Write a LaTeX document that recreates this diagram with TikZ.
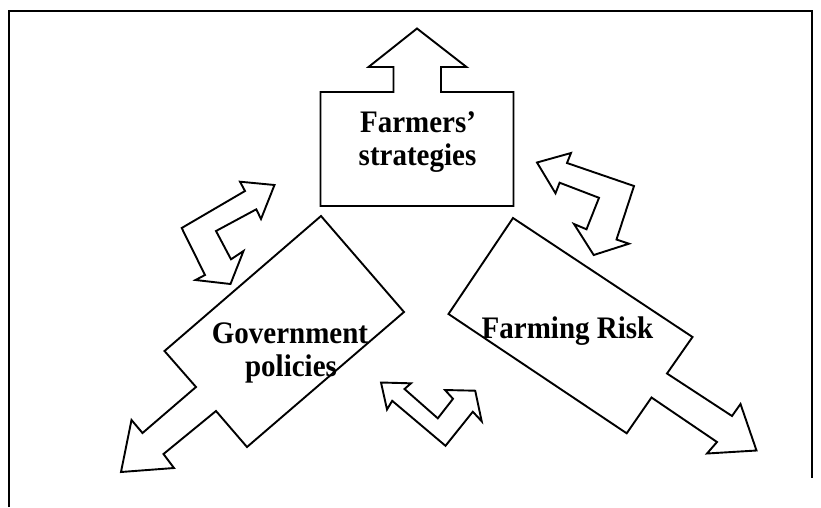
\documentclass[tikz,border=0pt]{standalone}
\usepackage{fontspec}
\usepackage{graphicx}
\setmainfont{Liberation Serif}
% labels are set slightly taller than wide
\newcommand\tallword[1]{\scalebox{1}[1.08]{#1}}
\begin{document}
\begin{tikzpicture}[x=1pt,y=-1pt,
  shape line/.style={draw=black,line width=1.9pt,line join=miter},
  frame line/.style={draw=black,line width=2pt},
  lbl/.style={anchor=base,inner sep=0pt,font=\fontsize{29}{33}\selectfont\bfseries}]
\useasboundingbox (0,0) rectangle (821,507);

% outer frame (open at the bottom)
\draw[frame line] (9,507) -- (9,11) -- (812,11) -- (812,478);

% Farmers' strategies: box with an upward arrow
\draw[shape line] (320.5,206) -- (320.5,92) -- (393.5,92) -- (393.5,67) -- (368.5,67)
  -- (417,28.5) -- (466.5,67) -- (441,67) -- (441,92) -- (513.5,92) -- (513.5,206) -- cycle;

% Government policies: tilted box with a double-headed arrow
\draw[shape line] (321,216) -- (404,312) -- (247,447) -- (216,411) -- (163.5,454)
  -- (174,468) -- (121,472) -- (131.5,420) -- (142.5,433) -- (196,387)
  -- (164.5,351) -- cycle;

% Farming Risk: tilted box with an arrow
\draw[shape line] (513,218) -- (692.5,337) -- (667,373.5) -- (732,416) -- (740.5,404)
  -- (756.5,450.5) -- (707,453.5) -- (717,442) -- (651.5,397.5) -- (626.7,433.3)
  -- (448.5,314) -- cycle;

% bent double arrow, left
\draw[shape line] (274.5,185) -- (240,181.7) -- (245,191) -- (181.7,228) -- (205,275)
  -- (195.5,280) -- (230.5,284) -- (243.5,251) -- (231,259.3) -- (216,231)
  -- (256.3,209.3) -- (261,219) -- cycle;

% bent double arrow, right
\draw[shape line] (537,162.5) -- (571,153) -- (567,163) -- (634,186) -- (616.5,239.5)
  -- (629,243.7) -- (593.7,255) -- (574,224) -- (586.5,229.3) -- (599,197.8)
  -- (559.6,182.7) -- (555.5,193.3) -- cycle;

% bent double arrow, bottom
\draw[shape line] (381,382.5) -- (411,383.3) -- (404.5,389) -- (437.8,418.3) -- (453,398.8)
  -- (445,390) -- (475.2,390.7) -- (481.7,421.3) -- (472.8,411.7) -- (445.5,445.8)
  -- (392.2,400.8) -- (387,409.5) -- cycle;

% labels
\node[lbl] (farmA) at (418,132) {\tallword{Farmers’}};
\node[lbl] (farmB) at (417.5,165) {\tallword{strategies}};
\node[lbl] (govA) at (290,343) {\tallword{Government}};
\node[lbl] (govB) at (291,376) {\tallword{policies}};
\node[lbl] (risk) at (567.5,338) {\tallword{Farming Risk}};
\end{tikzpicture}
\end{document}
